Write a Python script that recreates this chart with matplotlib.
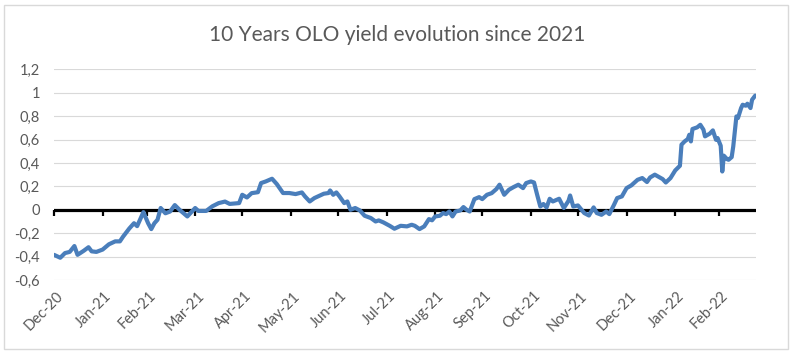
import matplotlib
matplotlib.use('Agg')
import matplotlib.pyplot as plt
import matplotlib.dates as mdates
from matplotlib.patches import Rectangle
from matplotlib.transforms import ScaledTranslation
import pandas as pd

# 10y OLO yield (dates, yield in %)
dates = [
    '2020-12-31', '2021-01-04', '2021-01-07', '2021-01-10', '2021-01-13', '2021-01-15',
    '2021-01-19', '2021-01-22', '2021-01-24', '2021-01-27', '2021-01-31', '2021-02-04',
    '2021-02-08', '2021-02-11', '2021-02-13', '2021-02-17', '2021-02-20', '2021-02-22',
    '2021-02-26', '2021-03-01', '2021-03-03', '2021-03-05', '2021-03-07', '2021-03-09',
    '2021-03-12', '2021-03-15', '2021-03-18', '2021-03-21', '2021-03-26', '2021-03-31',
    '2021-04-02', '2021-04-07', '2021-04-11', '2021-04-15', '2021-04-19', '2021-04-22',
    '2021-04-28', '2021-04-30', '2021-05-03', '2021-05-06', '2021-05-10', '2021-05-12',
    '2021-05-15', '2021-05-19', '2021-05-22', '2021-05-26', '2021-05-30', '2021-06-03',
    '2021-06-07', '2021-06-09', '2021-06-12', '2021-06-15', '2021-06-21', '2021-06-24',
    '2021-06-25', '2021-06-27', '2021-06-29', '2021-07-01', '2021-07-04', '2021-07-06',
    '2021-07-08', '2021-07-11', '2021-07-14', '2021-07-17', '2021-07-21', '2021-07-24',
    '2021-07-26', '2021-07-29', '2021-08-02', '2021-08-05', '2021-08-09', '2021-08-13',
    '2021-08-16', '2021-08-18', '2021-08-21', '2021-08-24', '2021-08-27', '2021-08-29',
    '2021-08-31', '2021-09-03', '2021-09-05', '2021-09-07', '2021-09-09', '2021-09-11',
    '2021-09-13', '2021-09-16', '2021-09-18', '2021-09-20', '2021-09-22', '2021-09-25',
    '2021-09-28', '2021-09-30', '2021-10-03', '2021-10-06', '2021-10-09', '2021-10-11',
    '2021-10-14', '2021-10-17', '2021-10-20', '2021-10-23', '2021-10-26', '2021-10-28',
    '2021-10-31', '2021-11-02', '2021-11-04', '2021-11-06', '2021-11-08', '2021-11-10',
    '2021-11-12', '2021-11-14', '2021-11-18', '2021-11-21', '2021-11-24', '2021-11-25',
    '2021-11-27', '2021-11-30', '2021-12-04', '2021-12-07', '2021-12-10', '2021-12-12',
    '2021-12-15', '2021-12-18', '2021-12-20', '2021-12-23', '2021-12-25', '2021-12-28',
    '2021-12-31', '2022-01-03', '2022-01-07', '2022-01-10', '2022-01-13', '2022-01-15',
    '2022-01-18', '2022-01-23', '2022-01-25', '2022-01-28', '2022-01-31', '2022-02-03',
    '2022-02-04', '2022-02-06', '2022-02-08', '2022-02-09', '2022-02-10', '2022-02-11',
    '2022-02-14', '2022-02-16', '2022-02-18', '2022-02-19', '2022-02-22', '2022-02-24',
    '2022-02-26', '2022-02-27', '2022-03-01', '2022-03-02', '2022-03-03', '2022-03-05',
    '2022-03-06', '2022-03-08', '2022-03-09', '2022-03-11', '2022-03-12', '2022-03-14',
    '2022-03-15', '2022-03-17', '2022-03-18', '2022-03-20', '2022-03-21', '2022-03-23',
]
yields = [
    -0.385, -0.41, -0.37, -0.36, -0.31, -0.385,
    -0.35, -0.32, -0.355, -0.36, -0.34, -0.295,
    -0.27, -0.27, -0.23, -0.16, -0.115, -0.14,
    -0.02, -0.115, -0.165, -0.115, -0.085, 0.015,
    -0.03, -0.015, 0.04, 0.0, -0.057, 0.015,
    -0.01, -0.01, 0.03, 0.057, 0.07, 0.05,
    0.057, 0.128, 0.105, 0.142, 0.15, 0.228,
    0.242, 0.265, 0.22, 0.143, 0.143, 0.134,
    0.148, 0.114, 0.071, 0.1, 0.137, 0.143,
    0.165, 0.128, 0.148, 0.114, 0.057, 0.071,
    0.0, 0.015, -0.006, -0.051, -0.071, -0.1,
    -0.091, -0.108, -0.137, -0.162, -0.137, -0.142,
    -0.128, -0.137, -0.165, -0.142, -0.08, -0.09,
    -0.057, -0.051, -0.028, -0.037, -0.015, -0.057,
    -0.015, -0.006, 0.023, 0.0, -0.015, 0.091,
    0.108, 0.091, 0.128, 0.142, 0.177, 0.214,
    0.128, 0.171, 0.194, 0.214, 0.185, 0.228,
    0.242, 0.233, 0.128, 0.028, 0.049, 0.02,
    0.094, 0.071, 0.094, 0.015, 0.077, 0.122,
    0.028, 0.037, -0.028, -0.049, 0.02, -0.028,
    -0.043, -0.015, -0.037, 0.043, 0.1, 0.114,
    0.185, 0.208, 0.256, 0.271, 0.237, 0.276,
    0.3, 0.262, 0.233, 0.271, 0.336, 0.376,
    0.556, 0.584, 0.604, 0.641, 0.584, 0.69,
    0.704, 0.726, 0.684, 0.627, 0.65, 0.678,
    0.598, 0.613, 0.547, 0.327, 0.462, 0.433,
    0.427, 0.45, 0.541, 0.797, 0.784, 0.869,
    0.897, 0.889, 0.906, 0.869, 0.94, 0.975,
]

# month-end ticks (Excel date axis based on 31-Dec)
tick_dates = ['2020-12-31', '2021-01-31', '2021-02-28', '2021-03-31', '2021-04-30',
              '2021-05-31', '2021-06-30', '2021-07-31', '2021-08-31', '2021-09-30',
              '2021-10-31', '2021-11-30', '2021-12-31', '2022-01-31', '2022-02-28']
tick_labels = ['Dec-20', 'Jan-21', 'Feb-21', 'Mar-21', 'Apr-21', 'May-21', 'Jun-21',
               'Jul-21', 'Aug-21', 'Sep-21', 'Oct-21', 'Nov-21', 'Dec-21', 'Jan-22', 'Feb-22']
ytick_values = [-0.6, -0.4, -0.2, 0.0, 0.2, 0.4, 0.6, 0.8, 1.0, 1.2]
ytick_labels = ['-0,6', '-0,4', '-0,2', '0', '0,2', '0,4', '0,6', '0,8', '1', '1,2']

plt.rcParams['font.family'] = ['Lato', 'DejaVu Sans']
grey = '#595959'

x = mdates.date2num(pd.to_datetime(dates))
xt = mdates.date2num(pd.to_datetime(tick_dates))

fig = plt.figure(figsize=(7.94, 3.58), dpi=100)
fig.patches.append(Rectangle((4 / 794, 9 / 358), 784 / 794, 344 / 358, transform=fig.transFigure,
                             fill=False, edgecolor='#d9d9d9', linewidth=1))

ax = fig.add_axes([54 / 794, 1 - 280 / 358, 702 / 794, 210.7 / 358])
ax.plot(x, yields, color='#4a7ebb', lw=3.0, solid_joinstyle='round', solid_capstyle='round', zorder=3)
ax.set_xlim(x[0], x[-1] + 0.5)
ax.set_ylim(-0.6, 1.2)

for s in ax.spines.values():
    s.set_visible(False)
ax.set_axisbelow(True)
ax.set_yticks(ytick_values, ytick_labels)
ax.grid(axis='y', color='#d9d9d9', lw=0.8)
ax.tick_params(axis='y', length=0, pad=10, labelcolor=grey, labelsize=10.5)

ax.set_xticks(xt, tick_labels)
ax.tick_params(axis='x', length=0, pad=7, labelcolor=grey, labelsize=10.5)
for lab in ax.get_xticklabels():
    lab.set_rotation(45)
    lab.set_rotation_mode('anchor')
    lab.set_ha('right')
    lab.set_va('center')
    lab.set_transform(lab.get_transform() + ScaledTranslation(7 / 100, -4 / 100, fig.dpi_scale_trans))

# horizontal axis line crossing at 0, with its tick marks
ax.axhline(0, color='black', lw=2.3, zorder=2.5)
sec = ax.secondary_xaxis(1 / 3)
sec.set_xticks(xt)
sec.set_xticklabels([])
sec.spines['bottom'].set_visible(False)
sec.tick_params(axis='x', length=4.5, width=1.6, color='black')

fig.text(0.5, 1 - 35 / 358, '10 Years OLO yield evolution since 2021', ha='center', va='center',
         fontsize=15, color=grey)

fig.savefig('out.png', dpi=100)
